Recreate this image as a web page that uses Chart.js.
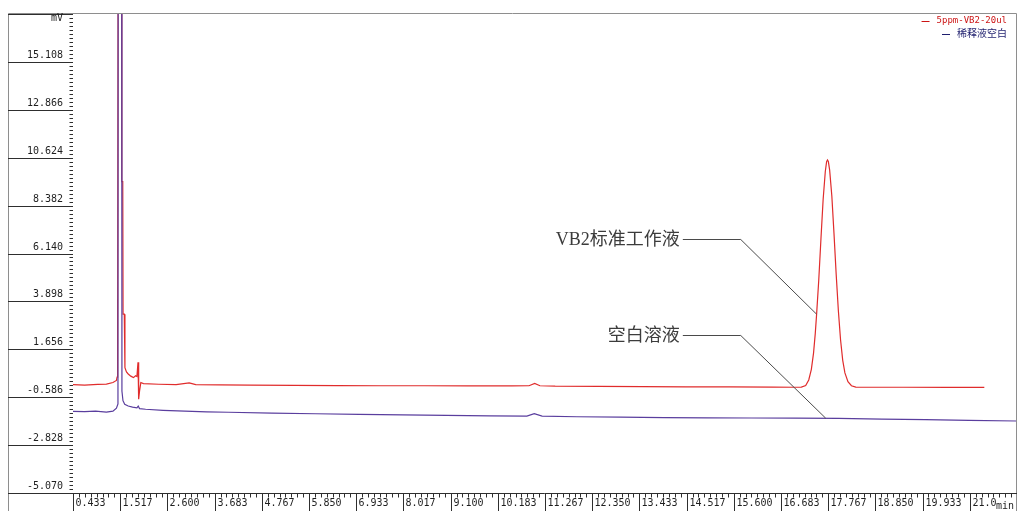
<!DOCTYPE html>
<html>
<head>
<meta charset="utf-8">
<script src="https://cdn.jsdelivr.net/npm/chart.js@4/dist/chart.umd.min.js"></script>
<style>
  html, body { margin: 0; padding: 0; background: #ffffff; overflow: hidden; }
  #wrap { width: 1018px; height: 511px; position: relative; }
  canvas { display: block; }
</style>
</head>
<body>
<div id="wrap"><canvas id="chrom" width="1018" height="511"></canvas></div>
<script>
// ---- series names ----
const seriesLabels = ['5ppm-VB2-20ul', '稀释液空白'];

// ---- 5ppm VB2 standard (retention time, min / signal, mV) ----
const stdTime = [
  0.433, 0.700, 1.000, 1.200, 1.350, 1.430, 1.445, 1.452, 1.462, 1.475,
  1.545, 1.553, 1.575, 1.582, 1.610, 1.625, 1.660, 1.700, 1.760, 1.820,
  1.870, 1.900, 1.925, 1.935, 1.945, 1.960, 1.990, 2.050, 2.400, 2.800,
  3.100, 3.250, 3.800, 4.500, 5.500, 6.500, 7.500, 8.500, 9.500, 10.500,
  10.900, 11.030, 11.150, 11.500, 12.500, 13.500, 14.500, 15.500, 16.500, 17.000,
  17.150, 17.250, 17.320, 17.380, 17.430, 17.470, 17.500, 17.550, 17.600, 17.650,
  17.700, 17.730, 17.750, 17.770, 17.800, 17.850, 17.900, 17.950, 18.000, 18.050,
  18.100, 18.150, 18.220, 18.300, 18.400, 18.600, 19.500, 20.500, 21.350
];
const stdSignal = [
  0.00, -0.02, 0.01, 0.03, 0.10, 0.20, 0.35, 4.00, 1.20, 30.0,
  30.0, 9.50, 9.50, 3.30, 3.30, 0.80, 0.60, 0.50, 0.40, 0.33,
  0.42, 0.38, 1.05, 1.00, -0.68, -0.30, 0.10, 0.05, 0.02, 0.00,
  0.08, 0.00, -0.01, -0.02, -0.03, -0.04, -0.05, -0.05, -0.06, -0.06,
  -0.05, 0.06, -0.05, -0.07, -0.08, -0.09, -0.10, -0.10, -0.11, -0.12,
  -0.11, -0.04, 0.22, 0.72, 1.48, 2.40, 3.28, 4.90, 6.82, 8.66,
  9.98, 10.44, 10.52, 10.45, 10.04, 8.83, 7.06, 5.16, 3.46, 2.10,
  1.14, 0.55, 0.14, -0.05, -0.11, -0.12, -0.12, -0.13, -0.13
];

// ---- diluent blank ----
const blankTime = [
  0.433, 0.700, 0.950, 1.200, 1.350, 1.430, 1.465, 1.472, 1.548, 1.556,
  1.580, 1.620, 1.700, 1.800, 1.900, 1.930, 1.960, 2.100, 2.500, 3.000,
  3.500, 4.000, 5.000, 6.000, 7.000, 8.000, 9.000, 10.000, 10.850, 11.020,
  11.200, 12.000, 13.000, 14.000, 15.000, 16.000, 17.000, 18.000, 19.000, 20.000,
  21.000, 22.100
];
const blankSignal = [
  -1.25, -1.26, -1.24, -1.28, -1.24, -1.10, -0.90, 30.0, 30.0, -0.30,
  -0.75, -0.92, -1.00, -1.05, -1.08, -1.00, -1.12, -1.15, -1.20, -1.24,
  -1.27, -1.29, -1.33, -1.36, -1.39, -1.41, -1.44, -1.46, -1.47, -1.36,
  -1.47, -1.50, -1.52, -1.54, -1.55, -1.56, -1.57, -1.58, -1.61, -1.64,
  -1.67, -1.70
];

// ---- axis ticks ----
const yTickValues = [-5.070, -2.828, -0.586, 1.656, 3.898, 6.140, 8.382, 10.624, 12.866, 15.108, 17.350];
const yTickLabels = ['-5.070', '-2.828', '-0.586', '1.656', '3.898', '6.140', '8.382', '10.624', '12.866', '15.108', 'mV'];
const xTickValues = [0.433, 1.517, 2.600, 3.683, 4.767, 5.850, 6.933, 8.017, 9.100, 10.183,
                     11.267, 12.350, 13.433, 14.517, 15.600, 16.683, 17.767, 18.850, 19.933, 21.017, 22.100];
const xTickLabels = ['0.433', '1.517', '2.600', '3.683', '4.767', '5.850', '6.933', '8.017', '9.100', '10.183',
                     '11.267', '12.350', '13.433', '14.517', '15.600', '16.683', '17.767', '18.850', '19.933', '21.0', ''];
const xUnit = 'min';

// ---- callout notes (data coordinates: start of leader, elbow, tip) ----
const callouts = [
  { text: 'VB2标准工作液', start: [14.43, 6.80], elbow: [15.76, 6.80], tip: [17.50, 3.30] },
  { text: '空白溶液',       start: [14.43, 2.32], elbow: [15.76, 2.32], tip: [17.71, -1.57] }
];

const toPoints = (t, v) => t.map((x, i) => ({ x: x, y: v[i] }));

const lineColors = ['#e02c2c', '#5a3e9e'];
const legendColors = ['#cc1414', '#1e1e6e'];

const chromDecor = {
  id: 'chromDecor',
  afterDraw(chart) {
    const ctx = chart.ctx;
    const xs = chart.scales.x, ys = chart.scales.y, area = chart.chartArea;
    const W = chart.width, H = chart.height;
    const axisX = Math.round(area.left) - 0.5;
    const baseY = Math.round(area.bottom) + 0.5;
    ctx.save();

    // outer frame
    ctx.lineWidth = 1;
    ctx.strokeStyle = '#8e8e8e';
    ctx.beginPath();
    ctx.moveTo(8.5, H); ctx.lineTo(8.5, 13.5); ctx.lineTo(W - 1.5, 13.5); ctx.lineTo(W - 1.5, H);
    ctx.stroke();

    // y axis: separators, minor ticks, labels
    ctx.strokeStyle = '#2e2e2e';
    ctx.fillStyle = '#1e1e1e';
    ctx.font = '10px "DejaVu Sans Mono"';
    ctx.textAlign = 'right';
    ctx.textBaseline = 'middle';
    const ySub = 12;
    for (let i = 0; i < yTickValues.length; i++) {
      const py = Math.round(ys.getPixelForValue(yTickValues[i])) + 0.5;
      ctx.beginPath(); ctx.moveTo(8, py); ctx.lineTo(axisX + 0.5, py); ctx.stroke();
      if (i < yTickValues.length - 1) {
        const step = (yTickValues[i + 1] - yTickValues[i]) / ySub;
        for (let k = 1; k < ySub; k++) {
          const my = Math.round(ys.getPixelForValue(yTickValues[i] + k * step)) + 0.5;
          ctx.beginPath(); ctx.moveTo(axisX - 3, my); ctx.lineTo(axisX + 0.5, my); ctx.stroke();
        }
        ctx.fillText(yTickLabels[i], 63, py - 7);
      } else {
        ctx.fillText(yTickLabels[i], 63, py + 3.5);
      }
    }

    // x axis: baseline, separators, minor ticks, labels
    ctx.beginPath(); ctx.moveTo(axisX, baseY); ctx.lineTo(W - 1, baseY); ctx.stroke();
    ctx.textAlign = 'left';
    const xSub = 8;
    for (let i = 0; i < xTickValues.length - 1; i++) {
      const px = Math.round(xs.getPixelForValue(xTickValues[i])) + 0.5;
      ctx.beginPath(); ctx.moveTo(px, baseY); ctx.lineTo(px, H); ctx.stroke();
      const step = (xTickValues[i + 1] - xTickValues[i]) / xSub;
      for (let k = 1; k < xSub; k++) {
        const mx = Math.round(xs.getPixelForValue(xTickValues[i] + k * step)) + 0.5;
        ctx.beginPath(); ctx.moveTo(mx, baseY); ctx.lineTo(mx, baseY + 4); ctx.stroke();
      }
      ctx.fillText(xTickLabels[i], px + 2, 503.5);
    }
    ctx.fillText(xUnit, W - 22, 506);

    // legend (top right)
    const legendFonts = ['9px "DejaVu Sans Mono"', '10px "Noto Sans CJK SC"'];
    const legendY = [20.5, 33.5];
    ctx.textAlign = 'right';
    for (let i = 0; i < seriesLabels.length; i++) {
      ctx.font = legendFonts[i];
      ctx.fillStyle = legendColors[i];
      const tx = 1007;
      const tw = ctx.measureText(seriesLabels[i]).width;
      ctx.fillText(seriesLabels[i], tx, legendY[i]);
      ctx.strokeStyle = legendColors[i];
      ctx.beginPath();
      ctx.moveTo(tx - tw - 15, Math.round(legendY[i]) + 0.5);
      ctx.lineTo(tx - tw - 7, Math.round(legendY[i]) + 0.5);
      ctx.stroke();
    }

    // callout notes with leader lines
    ctx.strokeStyle = '#4a4a4a';
    ctx.fillStyle = '#3c3c3c';
    ctx.font = '18px "Liberation Serif", "Noto Sans CJK SC"';
    ctx.textAlign = 'right';
    ctx.textBaseline = 'middle';
    callouts.forEach(c => {
      const sx = xs.getPixelForValue(c.start[0]), sy = Math.round(ys.getPixelForValue(c.start[1])) + 0.5;
      const ex = xs.getPixelForValue(c.elbow[0]);
      const tx = xs.getPixelForValue(c.tip[0]), ty = ys.getPixelForValue(c.tip[1]);
      ctx.beginPath();
      ctx.moveTo(sx, sy); ctx.lineTo(ex, sy); ctx.lineTo(tx, ty);
      ctx.stroke();
      ctx.fillText(c.text, sx - 3, sy + 1);
    });

    ctx.restore();
  }
};

new Chart(document.getElementById('chrom'), {
  type: 'line',
  data: {
    datasets: [
      {
        label: seriesLabels[0],
        data: toPoints(stdTime, stdSignal),
        borderColor: lineColors[0],
        borderWidth: 1.2,
        pointRadius: 0,
        tension: 0,
        fill: false,
        order: 1
      },
      {
        label: seriesLabels[1],
        data: toPoints(blankTime, blankSignal),
        borderColor: lineColors[1],
        borderWidth: 1.2,
        pointRadius: 0,
        tension: 0,
        fill: false,
        order: 0
      }
    ]
  },
  options: {
    responsive: false,
    animation: false,
    events: [],
    devicePixelRatio: 1,
    layout: { padding: { left: 73, top: 14, right: 1, bottom: 18 } },
    scales: {
      x: { type: 'linear', min: xTickValues[0], max: xTickValues[xTickValues.length - 1], display: false },
      y: { type: 'linear', min: yTickValues[0], max: yTickValues[yTickValues.length - 1], display: false }
    },
    plugins: {
      legend: { display: false },
      tooltip: { enabled: false }
    }
  },
  plugins: [chromDecor]
});
</script>
</body>
</html>
